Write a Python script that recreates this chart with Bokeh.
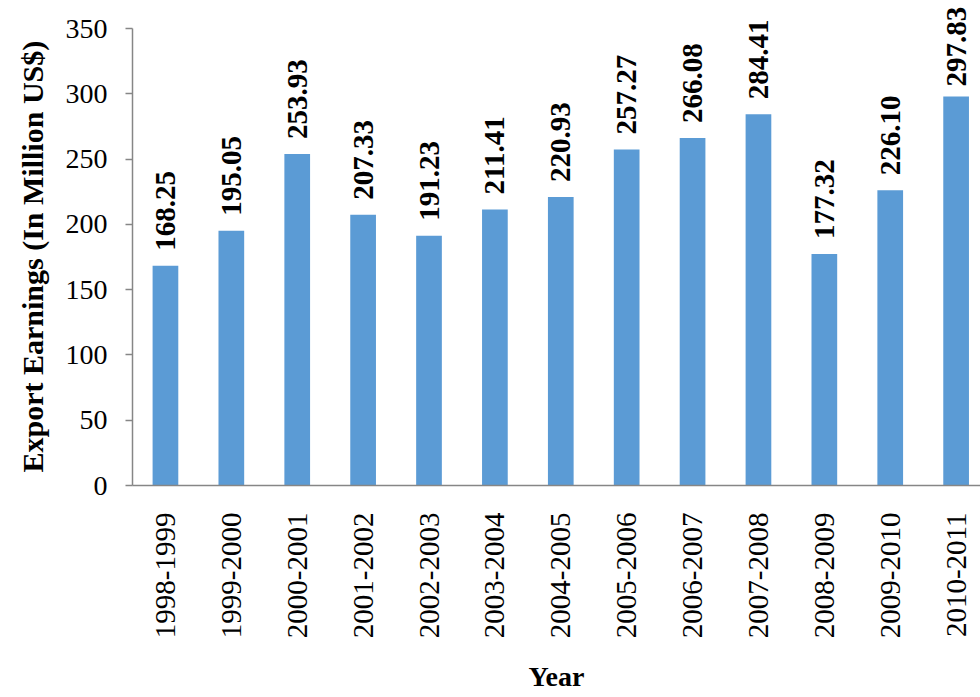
import math
from bokeh.plotting import figure
from bokeh.models import ColumnDataSource, Range1d, FixedTicker, Title
from bokeh.embed import file_html
from bokeh.resources import INLINE
from bokeh.core.properties import value

years = ["1998-1999", "1999-2000", "2000-2001", "2001-2002", "2002-2003",
         "2003-2004", "2004-2005", "2005-2006", "2006-2007", "2007-2008",
         "2008-2009", "2009-2010", "2010-2011"]
earnings = [168.25, 195.05, 253.93, 207.33, 191.23, 211.41, 220.93,
            257.27, 266.08, 284.41, 177.32, 226.10, 297.83]
y_ticks = [0, 50, 100, 150, 200, 250, 300, 350]

FONT = "Liberation Serif"
AXIS_GRAY = "#868686"

idx = list(range(len(years)))
# labels sit ~15px above their bar; the tallest one is nudged down to stay inside
label_shift = [-10 if v > 290 else -15 for v in earnings]
src = ColumnDataSource(dict(x=idx, top=earnings,
                            label=[f"{v:.2f}" for v in earnings],
                            shift=label_shift))

# frame spans the full top of the canvas so that the tallest label is not cut;
# the axis itself stops at 350
y_top = 350 * 485 / 457

p = figure(width=980, height=697, output_backend="svg", toolbar_location=None,
           x_range=Range1d(-0.5, 12.37), y_range=Range1d(0, y_top),
           min_border_left=129, min_border_top=0, min_border_bottom=212,
           min_border_right=0)
p.outline_line_color = None
p.xgrid.visible = False
p.ygrid.visible = False
p.background_fill_color = "white"
p.border_fill_color = "white"

p.vbar(x="x", top="top", width=0.39, bottom=0, source=src,
       fill_color="#5B9BD5", line_color=None)

p.text(x="x", y="top", text="label", source=src, angle=math.pi / 2,
       text_align="left", text_baseline="middle", y_offset="shift",
       text_font=value(FONT), text_font_style="bold",
       text_font_size="29px", text_color="black")

# x axis
xa = p.xaxis[0]
xa.ticker = FixedTicker(ticks=idx)
xa.major_label_overrides = {i: y for i, y in enumerate(years)}
xa.major_label_orientation = math.pi / 2
xa.major_tick_line_color = None
xa.major_tick_out = 0
xa.minor_tick_line_color = None
xa.major_label_standoff = 27
xa.major_label_text_font = FONT
xa.major_label_text_font_size = "29px"
xa.major_label_text_color = "black"
xa.axis_line_color = AXIS_GRAY
xa.axis_line_width = 1.5
xa.axis_label = "Year"
xa.axis_label_text_font = FONT
xa.axis_label_text_font_style = "bold"
xa.axis_label_text_font_size = "28px"
xa.axis_label_text_color = "black"
xa.axis_label_standoff = 20

# y axis
ya = p.yaxis[0]
ya.ticker = FixedTicker(ticks=y_ticks)
ya.bounds = (0, 350)
ya.major_tick_out = 7
ya.major_tick_in = 0
ya.major_tick_line_color = AXIS_GRAY
ya.major_tick_line_width = 1.5
ya.minor_tick_line_color = None
ya.major_label_standoff = 18
ya.major_label_text_font = FONT
ya.major_label_text_font_size = "28px"
ya.major_label_text_color = "black"
ya.axis_line_color = AXIS_GRAY
ya.axis_line_width = 1.5

ytitle = Title(text="Export Earnings (In Million US$)", align="left",
               offset=13, standoff=27, text_font=FONT,
               text_font_style="bold", text_font_size="30px",
               text_color="black")
p.add_layout(ytitle, "left")

open("out.html", "w").write(file_html(p, INLINE))
